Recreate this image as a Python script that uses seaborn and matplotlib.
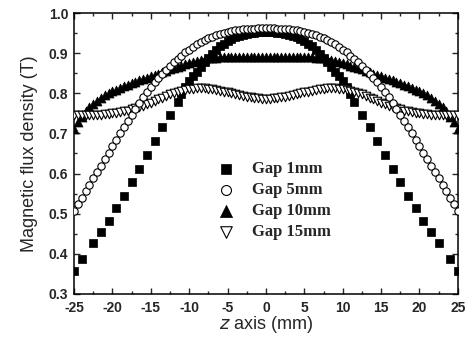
import numpy as np
import pandas as pd
import matplotlib
matplotlib.use('Agg')
import matplotlib.pyplot as plt
import seaborn as sns
from matplotlib.ticker import MultipleLocator

# Magnetic flux density along z axis for several air gaps

# sampling positions (mm) for the dense series, 0.5 mm step from -25 to 25
z_dense = np.linspace(-25, 25, 101)

gap5 = [
    0.507, 0.524, 0.540, 0.556, 0.572, 0.588, 0.604, 0.620, 0.636, 0.652,
    0.668, 0.684, 0.700, 0.716, 0.731, 0.746, 0.761, 0.776, 0.790, 0.803,
    0.815, 0.827, 0.838, 0.848, 0.858, 0.868, 0.877, 0.886, 0.894, 0.902,
    0.909, 0.916, 0.922, 0.928, 0.933, 0.937, 0.941, 0.945, 0.948, 0.951,
    0.953, 0.955, 0.957, 0.958, 0.959, 0.960, 0.961, 0.961, 0.962, 0.962,
    0.962,
    0.962, 0.962, 0.961, 0.961, 0.960, 0.959, 0.958, 0.957, 0.955, 0.953,
    0.951, 0.948, 0.945, 0.941, 0.937, 0.933, 0.928, 0.922, 0.916, 0.909,
    0.902, 0.894, 0.886, 0.877, 0.868, 0.858, 0.848, 0.838, 0.827, 0.815,
    0.803, 0.790, 0.776, 0.761, 0.746, 0.731, 0.716, 0.700, 0.684, 0.668,
    0.652, 0.636, 0.620, 0.604, 0.588, 0.572, 0.556, 0.540, 0.524, 0.507,
]

gap10 = [
    0.712, 0.728, 0.742, 0.755, 0.765, 0.774, 0.782, 0.789, 0.795, 0.800,
    0.805, 0.809, 0.813, 0.817, 0.821, 0.825, 0.828, 0.832, 0.835, 0.839,
    0.842, 0.846, 0.849, 0.853, 0.856, 0.860, 0.863, 0.866, 0.869, 0.872,
    0.875, 0.878, 0.880, 0.883, 0.885, 0.887, 0.888, 0.889, 0.890, 0.891,
    0.891, 0.891, 0.891, 0.891, 0.891, 0.891, 0.890, 0.890, 0.890, 0.890,
    0.890,
    0.890, 0.890, 0.890, 0.890, 0.891, 0.891, 0.891, 0.891, 0.891, 0.891,
    0.891, 0.890, 0.889, 0.888, 0.887, 0.885, 0.883, 0.880, 0.878, 0.875,
    0.872, 0.869, 0.866, 0.863, 0.860, 0.856, 0.853, 0.849, 0.846, 0.842,
    0.839, 0.835, 0.832, 0.828, 0.825, 0.821, 0.817, 0.813, 0.809, 0.805,
    0.800, 0.795, 0.789, 0.782, 0.774, 0.765, 0.755, 0.742, 0.728, 0.712,
]

gap15 = [
    0.746, 0.746, 0.746, 0.746, 0.746, 0.746, 0.747, 0.747, 0.748, 0.749,
    0.750, 0.751, 0.753, 0.755, 0.757, 0.760, 0.763, 0.766, 0.769, 0.773,
    0.777, 0.781, 0.785, 0.789, 0.793, 0.797, 0.800, 0.803, 0.806, 0.808,
    0.810, 0.811, 0.812, 0.812, 0.812, 0.811, 0.810, 0.808, 0.806, 0.804,
    0.802, 0.800, 0.798, 0.796, 0.794, 0.792, 0.790, 0.789, 0.788, 0.787,
    0.787,
    0.787, 0.788, 0.789, 0.790, 0.792, 0.794, 0.796, 0.798, 0.800, 0.802,
    0.804, 0.806, 0.808, 0.810, 0.811, 0.812, 0.812, 0.812, 0.811, 0.810,
    0.808, 0.806, 0.803, 0.800, 0.797, 0.793, 0.789, 0.785, 0.781, 0.777,
    0.773, 0.769, 0.766, 0.763, 0.760, 0.757, 0.755, 0.753, 0.751, 0.750,
    0.749, 0.748, 0.747, 0.747, 0.746, 0.746, 0.746, 0.746, 0.746, 0.746,
]

# gap 1 mm was measured on a coarser grid near the ends
z_gap1 = [
    -25, -24, -22.5, -21.5, -20.5, -19.5, -18.5, -17.5, -16.5, -15.5,
    -14.5, -13.5, -12.5, -11.5, -11, -10.5, -10, -9.5, -9, -8.5,
    -8, -7.5, -7, -6.5, -6, -5.5, -5, -4.5, -4, -3.5,
    -3, -2.5, -2, -1.5, -1, -0.5, 0, 0.5, 1, 1.5,
    2, 2.5, 3, 3.5, 4, 4.5, 5, 5.5, 6, 6.5,
    7, 7.5, 8, 8.5, 9, 9.5, 10, 10.5, 11, 11.5,
    12.5, 13.5, 14.5, 15.5, 16.5, 17.5, 18.5, 19.5, 20.5, 21.5,
    22.5, 24, 25,
]
gap1 = [
    0.357, 0.386, 0.426, 0.454, 0.482, 0.513, 0.544, 0.578, 0.611, 0.646,
    0.682, 0.715, 0.746, 0.778, 0.797, 0.815, 0.830, 0.842, 0.853, 0.865,
    0.877, 0.889, 0.899, 0.909, 0.917, 0.924, 0.930, 0.935, 0.940, 0.943,
    0.946, 0.948, 0.950, 0.951, 0.952, 0.953, 0.953, 0.953, 0.952, 0.951,
    0.950, 0.948, 0.946, 0.943, 0.940, 0.935, 0.930, 0.924, 0.917, 0.909,
    0.899, 0.889, 0.877, 0.865, 0.853, 0.842, 0.830, 0.815, 0.797, 0.778,
    0.746, 0.715, 0.682, 0.646, 0.611, 0.578, 0.544, 0.513, 0.482, 0.454,
    0.426, 0.386, 0.357,
]

y_ticks = [0.3, 0.4, 0.5, 0.6, 0.7, 0.8, 0.9, 1.0]

sns.set_style('ticks')
plt.rcParams['font.family'] = ['Liberation Sans', 'DejaVu Sans']
plt.rcParams['axes.unicode_minus'] = False
plt.rcParams['xtick.direction'] = 'in'
plt.rcParams['ytick.direction'] = 'in'

fig = plt.figure(figsize=(4.73, 3.43), dpi=100)
ax = fig.add_axes([0.1565, 0.143, 0.8115, 0.819])

# draw order: open circles end up on top, like the original
sns.scatterplot(x=z_gap1, y=gap1, marker='s', s=26, color='black',
                edgecolor='black', linewidth=0.5, label='Gap 1mm', ax=ax, zorder=3)
sns.scatterplot(x=z_dense, y=gap10, marker='^', s=42, color='black',
                edgecolor='black', linewidth=0.5, label='Gap 10mm', ax=ax, zorder=3)
sns.scatterplot(x=z_dense, y=gap15, marker='v', s=38, color='white',
                edgecolor='black', linewidth=0.8, label='Gap 15mm', ax=ax, zorder=3)
sns.scatterplot(x=z_dense, y=gap5, marker='o', s=28, color='white',
                edgecolor='black', linewidth=0.8, label='Gap 5mm', ax=ax, zorder=4)

ax.set_xlim(-25, 25)
ax.set_ylim(0.3, 1.0)
ax.xaxis.set_major_locator(MultipleLocator(5))
ax.xaxis.set_minor_locator(MultipleLocator(2.5))
ax.yaxis.set_minor_locator(MultipleLocator(0.05))
ax.set_yticks(y_ticks)
ax.set_yticklabels([f'{v:.1f}' for v in y_ticks])
ax.tick_params(which='both', top=True, right=True, direction='in', width=1.0)
ax.tick_params(which='major', length=4.5, labelsize=10)
ax.tick_params(axis='x', which='major', pad=5)
ax.tick_params(axis='y', which='major', pad=4)
ax.tick_params(which='minor', length=2.5)
for lab in ax.get_xticklabels() + ax.get_yticklabels():
    lab.set_fontweight('bold')
for sp in ax.spines.values():
    sp.set_linewidth(1.1)
    sp.set_color('black')

ax.set_xlabel(r'$\it{z}$ axis (mm)', fontsize=13, labelpad=-1)
ax.set_ylabel('Magnetic flux density (T)', fontsize=13, labelpad=8)

handles, labels = ax.get_legend_handles_labels()
order = ['Gap 1mm', 'Gap 5mm', 'Gap 10mm', 'Gap 15mm']
hmap = dict(zip(labels, handles))
ax.legend([hmap[k] for k in order], order, loc='upper left',
          bbox_to_anchor=(0.334, 0.527), frameon=False, markerscale=1.35,
          handlelength=1.0, handletextpad=1.1, labelspacing=0.3,
          prop={'family': 'Liberation Serif', 'weight': 'bold', 'size': 12})

fig.savefig('out.png', dpi=100)
